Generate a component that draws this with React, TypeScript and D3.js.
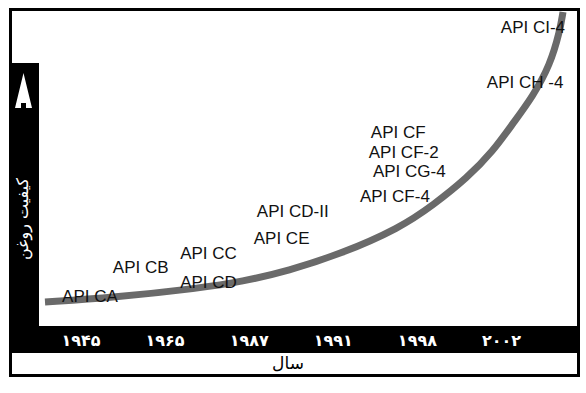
import React, { useEffect, useRef } from "react";
import * as d3 from "d3";

// tick labels along the bottom band (Persian digits)
const years = ["۱۹۴۵", "۱۹۶۵", "۱۹۸۷", "۱۹۹۱", "۱۹۹۸", "۲۰۰۲"];

// oil quality curve, abstract units 0..100
const curveT = [0, 13, 30, 38, 47, 57, 68.5, 75, 81.5, 86.5, 90.3, 94.2, 97.5, 99.4, 100];
const curveQ = [0, 1.5, 4.8, 7, 10.8, 16.5, 25.5, 33.5, 42.8, 52, 61.5, 71, 81.7, 93.5, 100];

// API service categories and where they sit on the same axes
const gradeNames = [
  "API CA",
  "API CB",
  "API CC",
  "API CD",
  "API CD-II",
  "API CE",
  "API CF-4",
  "API CF",
  "API CF-2",
  "API CG-4",
  "API CH -4",
  "API CI-4",
];
const gradeT = [3.3, 13.1, 26.1, 26.1, 40.9, 40.3, 60.8, 62.9, 62.5, 63.3, 85.3, 88.0];
const gradeQ = [0, 10, 14.8, 4.8, 29.3, 20, 34.5, 56.6, 49.6, 43, 73.8, 92.8];

const yTitle = "کیفیت روغن";
const xTitle = "سال";

const QualityChart = () => {
  const ref = useRef(null);

  useEffect(() => {
    const width = 586;
    const height = 393;
    const svg = d3.select(ref.current);
    svg.selectAll("*").remove();
    svg.attr("width", width).attr("height", height).attr("viewBox", [0, 0, width, height]);

    const x = d3.scaleLinear([0, 100], [45, 563]);
    const y = d3.scaleLinear([0, 100], [302, 12]);
    const yearScale = d3.scalePoint(years, [80.5, 501]);

    // frame
    svg
      .append("rect")
      .attr("x", 10.5)
      .attr("y", 9.5)
      .attr("width", 568)
      .attr("height", 366)
      .attr("fill", "white")
      .attr("stroke", "black")
      .attr("stroke-width", 3);

    // left band (y axis)
    svg.append("rect").attr("x", 10).attr("y", 63).attr("width", 29).attr("height", 264).attr("fill", "black");
    // bottom band (x axis)
    svg.append("rect").attr("x", 10).attr("y", 326).attr("width", 569).attr("height", 27).attr("fill", "black");

    // arrow
    svg
      .append("path")
      .attr("d", "M23.5,73 L32,108 L26,108 L26,103 L21,103 L21,108 L15,108 Z")
      .attr("fill", "white");

    svg
      .append("text")
      .attr("transform", "translate(22,219) rotate(-90)")
      .attr("text-anchor", "middle")
      .attr("dominant-baseline", "central")
      .attr("fill", "white")
      .attr("font-family", "'DejaVu Sans', sans-serif")
      .attr("font-size", 16)
      .text(yTitle);

    svg
      .append("g")
      .attr("transform", "translate(0,340)")
      .call(d3.axisBottom(yearScale).tickSize(0).tickPadding(0))
      .call((g) => g.select(".domain").remove())
      .call((g) =>
        g
          .selectAll(".tick text")
          .attr("y", 0)
          .attr("dy", "0.35em")
          .attr("fill", "white")
          .attr("font-family", "'DejaVu Sans', sans-serif")
          .attr("font-weight", "bold")
          .attr("font-size", 16)
      );

    svg
      .append("text")
      .attr("x", 288)
      .attr("y", 369)
      .attr("text-anchor", "middle")
      .attr("font-family", "'DejaVu Sans', sans-serif")
      .attr("font-size", 17)
      .attr("fill", "black")
      .text(xTitle);

    // quality curve
    const line = d3
      .line()
      .x((i) => x(curveT[i]))
      .y((i) => y(curveQ[i]))
      .curve(d3.curveBasis);

    svg
      .append("path")
      .attr("d", line(d3.range(curveT.length)))
      .attr("fill", "none")
      .attr("stroke", "#6a6a6a")
      .attr("stroke-width", 7);

    svg
      .append("g")
      .attr("font-family", "'Liberation Sans', Arial, sans-serif")
      .attr("font-size", 17)
      .attr("fill", "#111")
      .selectAll("text")
      .data(d3.range(gradeNames.length))
      .join("text")
      .attr("x", (i) => x(gradeT[i]))
      .attr("y", (i) => y(gradeQ[i]))
      .text((i) => gradeNames[i]);
  }, []);

  return <svg ref={ref} style={{ position: "absolute", left: 0, top: 0, display: "block" }}></svg>;
};

export default function App() {
  return <QualityChart />;
}
